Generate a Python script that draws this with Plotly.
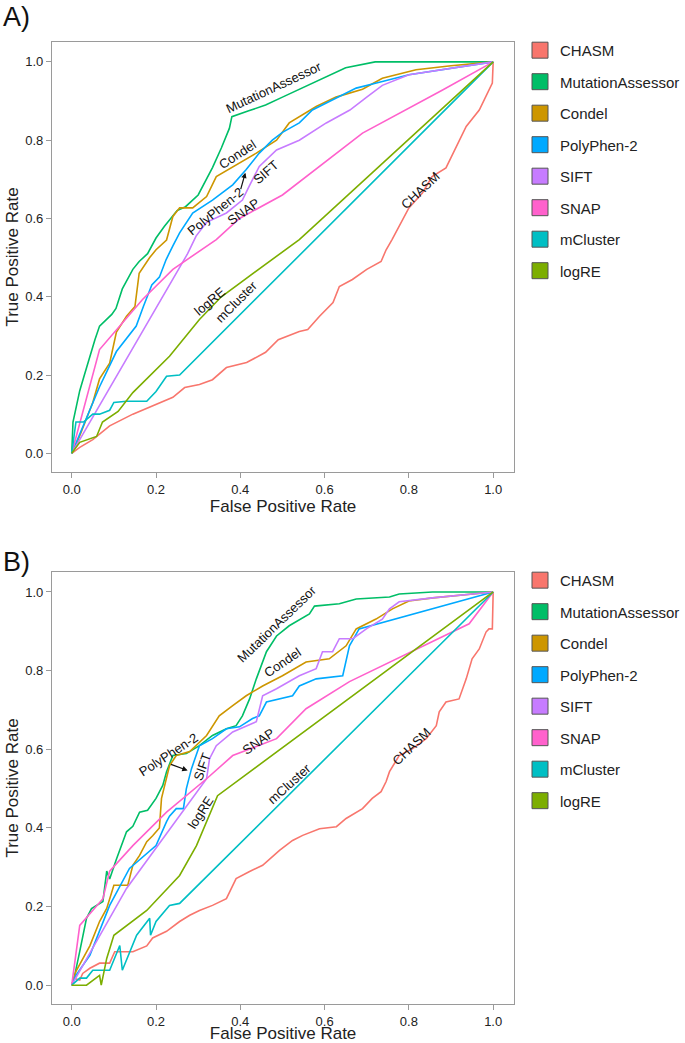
import plotly.graph_objects as go

W, H = 685, 1043

METHODS = ["CHASM", "MutationAssessor", "Condel", "PolyPhen-2", "SIFT", "SNAP", "mCluster", "logRE"]
COLORS = {
    "CHASM": "#F8766D",
    "MutationAssessor": "#00BE67",
    "Condel": "#CD9600",
    "PolyPhen-2": "#00A9FF",
    "SIFT": "#C77CFF",
    "SNAP": "#FF61CC",
    "mCluster": "#00BFC4",
    "logRE": "#7CAE00",
}

# ── Panel A ROC points (FPR, TPR) ───────────────────────────────────────────
a_chasm_fpr = [0, 0.019, 0.05, 0.09, 0.145, 0.20, 0.24, 0.268, 0.303, 0.334, 0.367, 0.415, 0.46, 0.49,
               0.54, 0.56, 0.588, 0.62, 0.635, 0.666, 0.70, 0.734, 0.746, 0.76, 0.777, 0.80, 0.832,
               0.855, 0.888, 0.912, 0.936, 0.967, 0.986, 0.998, 1.0]
a_chasm_tpr = [0, 0.015, 0.035, 0.07, 0.10, 0.125, 0.143, 0.168, 0.176, 0.188, 0.219, 0.232, 0.258, 0.29,
               0.311, 0.316, 0.35, 0.385, 0.426, 0.444, 0.47, 0.49, 0.52, 0.546, 0.58, 0.627, 0.665,
               0.707, 0.729, 0.784, 0.835, 0.877, 0.92, 0.946, 1.0]

a_ma_fpr = [0, 0.003, 0.011, 0.019, 0.03, 0.043, 0.055, 0.066, 0.08, 0.095, 0.105, 0.12, 0.145, 0.16,
            0.18, 0.2, 0.22, 0.25, 0.27, 0.3, 0.334, 0.355, 0.374, 0.38, 0.42, 0.46, 0.5, 0.55, 0.6,
            0.65, 0.72, 0.8, 0.9, 1.0]
a_ma_tpr = [0, 0.08, 0.12, 0.16, 0.2, 0.25, 0.29, 0.325, 0.34, 0.355, 0.37, 0.42, 0.47, 0.49,
            0.51, 0.55, 0.58, 0.62, 0.63, 0.66, 0.73, 0.78, 0.83, 0.86, 0.875, 0.89, 0.91, 0.935, 0.96,
            0.985, 1.0, 1.0, 1.0, 1.0]

a_condel_fpr = [0, 0.01, 0.05, 0.066, 0.09, 0.106, 0.13, 0.15, 0.16, 0.185, 0.20, 0.225, 0.24, 0.256,
                0.287, 0.32, 0.343, 0.398, 0.438, 0.486, 0.516, 0.58, 0.627, 0.69, 0.737, 0.817, 0.9, 1.0]
a_condel_tpr = [0, 0.02, 0.13, 0.19, 0.23, 0.31, 0.35, 0.375, 0.46, 0.50, 0.52, 0.545, 0.605, 0.627,
                0.627, 0.656, 0.707, 0.742, 0.767, 0.80, 0.844, 0.886, 0.91, 0.93, 0.958, 0.98, 0.99, 1.0]

a_pph_fpr = [0, 0.066, 0.106, 0.153, 0.17, 0.19, 0.208, 0.224, 0.24, 0.256, 0.287, 0.334, 0.382, 0.414,
             0.445, 0.476, 0.50, 0.54, 0.571, 0.62, 0.675, 0.723, 0.80, 1.0]
a_pph_tpr = [0, 0.17, 0.26, 0.325, 0.375, 0.43, 0.45, 0.495, 0.53, 0.563, 0.614, 0.647, 0.686, 0.725,
             0.767, 0.80, 0.82, 0.844, 0.877, 0.903, 0.933, 0.946, 0.967, 1.0]

a_sift_fpr = [0, 0.275, 0.295, 0.32, 0.367, 0.405, 0.42, 0.445, 0.486, 0.54, 0.604, 0.66, 0.70, 0.737, 0.80, 1.0]
a_sift_tpr = [0, 0.51, 0.555, 0.59, 0.614, 0.647, 0.68, 0.733, 0.775, 0.80, 0.844, 0.877, 0.91, 0.94, 0.967, 1.0]

a_snap_fpr = [0, 0.066, 0.168, 0.24, 0.343, 0.398, 0.50, 0.588, 0.69, 0.88, 1.0]
a_snap_tpr = [0, 0.265, 0.393, 0.47, 0.546, 0.60, 0.66, 0.733, 0.818, 0.928, 1.0]

a_mcl_fpr = [0, 0.01, 0.028, 0.05, 0.066, 0.09, 0.10, 0.13, 0.178, 0.20, 0.225, 0.256, 1.0]
a_mcl_tpr = [0, 0.08, 0.08, 0.10, 0.10, 0.11, 0.13, 0.133, 0.133, 0.158, 0.197, 0.20, 1.0]

a_logre_fpr = [0, 0.019, 0.059, 0.073, 0.11, 0.145, 0.232, 0.303, 0.355, 0.469, 0.54, 1.0]
a_logre_tpr = [0, 0.028, 0.043, 0.08, 0.107, 0.155, 0.248, 0.342, 0.40, 0.49, 0.546, 1.0]

# ── Panel B ROC points (FPR, TPR) ───────────────────────────────────────────
b_chasm_fpr = [0, 0.006, 0.019, 0.026, 0.043, 0.066, 0.09, 0.102, 0.145, 0.178, 0.192, 0.225, 0.256,
               0.28, 0.303, 0.334, 0.367, 0.39, 0.422, 0.453, 0.493, 0.524, 0.548, 0.588, 0.628, 0.651,
               0.69, 0.713, 0.734, 0.746, 0.754, 0.777, 0.808, 0.841, 0.865, 0.872, 0.888, 0.919, 0.936,
               0.95, 0.967, 0.983, 0.99, 0.998, 1.0]
b_chasm_tpr = [0, 0.017, 0.013, 0.03, 0.043, 0.056, 0.056, 0.085, 0.085, 0.10, 0.12, 0.137, 0.162,
               0.178, 0.19, 0.203, 0.22, 0.271, 0.289, 0.305, 0.343, 0.368, 0.381, 0.398, 0.403, 0.424,
               0.449, 0.475, 0.492, 0.518, 0.543, 0.584, 0.601, 0.627, 0.66, 0.695, 0.72, 0.728, 0.779,
               0.83, 0.855, 0.898, 0.906, 0.906, 1.0]

b_ma_fpr = [0, 0.007, 0.019, 0.026, 0.035, 0.047, 0.055, 0.074, 0.083, 0.09, 0.106, 0.13, 0.145, 0.161,
            0.18, 0.20, 0.216, 0.225, 0.24, 0.272, 0.303, 0.334, 0.367, 0.39, 0.405, 0.422, 0.438, 0.45,
            0.462, 0.486, 0.516, 0.564, 0.576, 0.635, 0.675, 0.754, 0.777, 0.856, 1.0]
b_ma_tpr = [0, 0.025, 0.086, 0.127, 0.17, 0.195, 0.2, 0.213, 0.29, 0.27, 0.32, 0.39, 0.404, 0.44,
            0.445, 0.475, 0.508, 0.543, 0.584, 0.589, 0.609, 0.635, 0.652, 0.66, 0.685, 0.728, 0.779, 0.812,
            0.848, 0.888, 0.914, 0.944, 0.964, 0.97, 0.982, 0.987, 0.995, 1.0, 1.0]

b_condel_fpr = [0, 0.01, 0.043, 0.066, 0.083, 0.10, 0.133, 0.145, 0.161, 0.178, 0.192, 0.208, 0.213,
                0.225, 0.232, 0.248, 0.28, 0.32, 0.35, 0.382, 0.414, 0.453, 0.50, 0.556, 0.611, 0.651,
                0.675, 0.722, 0.761, 0.80, 0.857, 1.0]
b_condel_tpr = [0, 0.035, 0.10, 0.162, 0.195, 0.254, 0.254, 0.305, 0.33, 0.365, 0.38, 0.40, 0.475,
                0.525, 0.558, 0.584, 0.594, 0.635, 0.685, 0.711, 0.736, 0.761, 0.787, 0.822, 0.83, 0.863,
                0.906, 0.931, 0.957, 0.977, 0.985, 1.0]

b_pph_fpr = [0, 0.01, 0.043, 0.09, 0.137, 0.20, 0.225, 0.232, 0.248, 0.265, 0.272, 0.284, 0.303, 0.334,
             0.367, 0.398, 0.429, 0.445, 0.462, 0.493, 0.524, 0.54, 0.58, 0.643, 0.659, 0.682, 1.0]
b_pph_tpr = [0, 0.025, 0.076, 0.203, 0.297, 0.355, 0.416, 0.43, 0.449, 0.449, 0.50, 0.55, 0.609, 0.627,
             0.652, 0.657, 0.678, 0.685, 0.72, 0.728, 0.736, 0.761, 0.779, 0.787, 0.863, 0.906, 1.0]

b_sift_fpr = [0, 0.13, 0.32, 0.327, 0.343, 0.382, 0.438, 0.453, 0.486, 0.54, 0.58, 0.595, 0.619, 0.635,
              0.667, 0.699, 0.737, 0.754, 0.777, 0.856, 1.0]
b_sift_tpr = [0, 0.246, 0.525, 0.576, 0.609, 0.644, 0.67, 0.736, 0.754, 0.787, 0.805, 0.848, 0.848, 0.881,
              0.881, 0.906, 0.931, 0.957, 0.975, 0.985, 1.0]

b_snap_fpr = [0, 0.019, 0.074, 0.09, 0.145, 0.225, 0.32, 0.382, 0.486, 0.556, 0.659, 0.943, 1.0]
b_snap_tpr = [0, 0.152, 0.22, 0.29, 0.355, 0.44, 0.525, 0.584, 0.627, 0.703, 0.772, 0.919, 1.0]

b_mcl_fpr = [0, 0.019, 0.035, 0.05, 0.09, 0.114, 0.12, 0.154, 0.185, 0.187, 0.2, 0.232, 0.256, 1.0]
b_mcl_tpr = [0, 0.018, 0.018, 0.038, 0.038, 0.101, 0.038, 0.127, 0.17, 0.127, 0.162, 0.203, 0.208, 1.0]

b_logre_fpr = [0, 0.035, 0.066, 0.07, 0.083, 0.10, 0.178, 0.256, 0.296, 0.346, 1.0]
b_logre_tpr = [0, 0, 0.025, 0, 0.068, 0.127, 0.19, 0.279, 0.355, 0.482, 1.0]

CURVES_A = {
    "CHASM": (a_chasm_fpr, a_chasm_tpr),
    "MutationAssessor": (a_ma_fpr, a_ma_tpr),
    "Condel": (a_condel_fpr, a_condel_tpr),
    "PolyPhen-2": (a_pph_fpr, a_pph_tpr),
    "SIFT": (a_sift_fpr, a_sift_tpr),
    "SNAP": (a_snap_fpr, a_snap_tpr),
    "mCluster": (a_mcl_fpr, a_mcl_tpr),
    "logRE": (a_logre_fpr, a_logre_tpr),
}
CURVES_B = {
    "CHASM": (b_chasm_fpr, b_chasm_tpr),
    "MutationAssessor": (b_ma_fpr, b_ma_tpr),
    "Condel": (b_condel_fpr, b_condel_tpr),
    "PolyPhen-2": (b_pph_fpr, b_pph_tpr),
    "SIFT": (b_sift_fpr, b_sift_tpr),
    "SNAP": (b_snap_fpr, b_snap_tpr),
    "mCluster": (b_mcl_fpr, b_mcl_tpr),
    "logRE": (b_logre_fpr, b_logre_tpr),
}

# in-plot curve labels: text, x, y, angle
LABELS_A = [
    ("MutationAssessor", 0.479, 0.934, -25),
    ("Condel", 0.393, 0.763, -33),
    ("PolyPhen-2", 0.341, 0.617, -39),
    ("SIFT", 0.460, 0.717, -41),
    ("SNAP", 0.408, 0.617, -35),
    ("CHASM", 0.827, 0.671, -43),
    ("logRE", 0.327, 0.388, -40),
    ("mCluster", 0.391, 0.388, -45),
]
LABELS_B = [
    ("MutationAssessor", 0.488, 0.919, -44),
    ("Condel", 0.500, 0.820, -34),
    ("PolyPhen-2", 0.230, 0.586, -33),
    ("SIFT", 0.310, 0.556, -70),
    ("SNAP", 0.443, 0.619, -35),
    ("CHASM", 0.806, 0.607, -44),
    ("logRE", 0.306, 0.439, -57),
    ("mCluster", 0.517, 0.513, -42),
]
# pointer arrows from PolyPhen-2 label to its curve: (tail x, tail y, head x, head y)
ARROW_A = (0.400, 0.671, 0.412, 0.717)
ARROW_B = (0.232, 0.563, 0.275, 0.546)

FONT = "Liberation Sans, Arial, Helvetica, sans-serif"
FRAME = "#9a9a9a"

fig = go.Figure()

panels = [
    ("x", "y", "legend", CURVES_A, LABELS_A, ARROW_A),
    ("x2", "y2", "legend2", CURVES_B, LABELS_B, ARROW_B),
]

for xa, ya, leg, curves, labels, arrow in panels:
    for m in METHODS:
        fpr, tpr = curves[m]
        fig.add_trace(go.Scatter(
            x=fpr, y=tpr, mode="lines", name=m,
            line=dict(color=COLORS[m], width=1.6),
            xaxis=xa, yaxis=ya, showlegend=False,
        ))
    # legend swatches
    for m in METHODS:
        fig.add_trace(go.Scatter(
            x=[None], y=[None], mode="markers", name=m,
            marker=dict(symbol="square", size=16, color=COLORS[m], line=dict(color="#555", width=1)),
            xaxis=xa, yaxis=ya, legend=leg, legendgroup=leg + m,
        ))
    for text, lx, ly, ang in labels:
        fig.add_annotation(x=lx, y=ly, xref=xa, yref=ya, text=text, textangle=ang,
                           showarrow=False, font=dict(size=13, color="#111", family=FONT))
    tx, ty, hx, hy = arrow
    fig.add_annotation(x=hx, y=hy, ax=tx, ay=ty, xref=xa, yref=ya, axref=xa, ayref=ya,
                       text="", showarrow=True, arrowhead=2, arrowsize=0.9, arrowwidth=1.2,
                       arrowcolor="#111")

axis_common = dict(
    showgrid=False, zeroline=False, showline=True, mirror=True, linecolor=FRAME, linewidth=1,
    ticks="outside", ticklen=5, tickcolor=FRAME, tick0=0, dtick=0.2, tickformat=".1f",
    tickfont=dict(size=13, color="#222", family=FONT),
)
xr = [-0.047, 1.05]
yr = [-0.048, 1.051]
xdom = [52 / W, 515 / W]

fig.update_layout(
    width=W, height=H,
    margin=dict(l=0, r=0, t=0, b=0),
    paper_bgcolor="white", plot_bgcolor="white",
    font=dict(family=FONT, color="#222"),
    xaxis=dict(domain=xdom, range=xr, anchor="y",
               title=dict(text="False Positive Rate", font=dict(size=17), standoff=2), **axis_common),
    yaxis=dict(domain=[1 - 473 / H, 1 - 42 / H], range=yr, anchor="x",
               title=dict(text="True Positive Rate", font=dict(size=17), standoff=2), **axis_common),
    xaxis2=dict(domain=xdom, range=xr, anchor="y2",
                title=dict(text="False Positive Rate", font=dict(size=17), standoff=2), **axis_common),
    yaxis2=dict(domain=[1 - 1006 / H, 1 - 573 / H], range=yr, anchor="x2",
                title=dict(text="True Positive Rate", font=dict(size=17), standoff=2), **axis_common),
    legend=dict(x=521 / W, y=1 - 34 / H, xanchor="left", yanchor="top", tracegroupgap=9,
                font=dict(size=15, color="#222"), bgcolor="rgba(0,0,0,0)", itemsizing="trace"),
    legend2=dict(x=521 / W, y=1 - 565 / H, xanchor="left", yanchor="top", tracegroupgap=9,
                 font=dict(size=15, color="#222"), bgcolor="rgba(0,0,0,0)", itemsizing="trace"),
)

for label, ytop in [("A)", 0), ("B)", 546)]:
    fig.add_annotation(x=1 / W, y=1 - ytop / H, xref="paper", yref="paper", xanchor="left", yanchor="top",
                       text=label, showarrow=False, font=dict(size=27, color="#111", family=FONT))

# the page body carries a default 8px margin; drop it so the figure fills the window
fig.write_html("out.html", config={"displayModeBar": False},
               post_script="document.body.style.margin='0';")
